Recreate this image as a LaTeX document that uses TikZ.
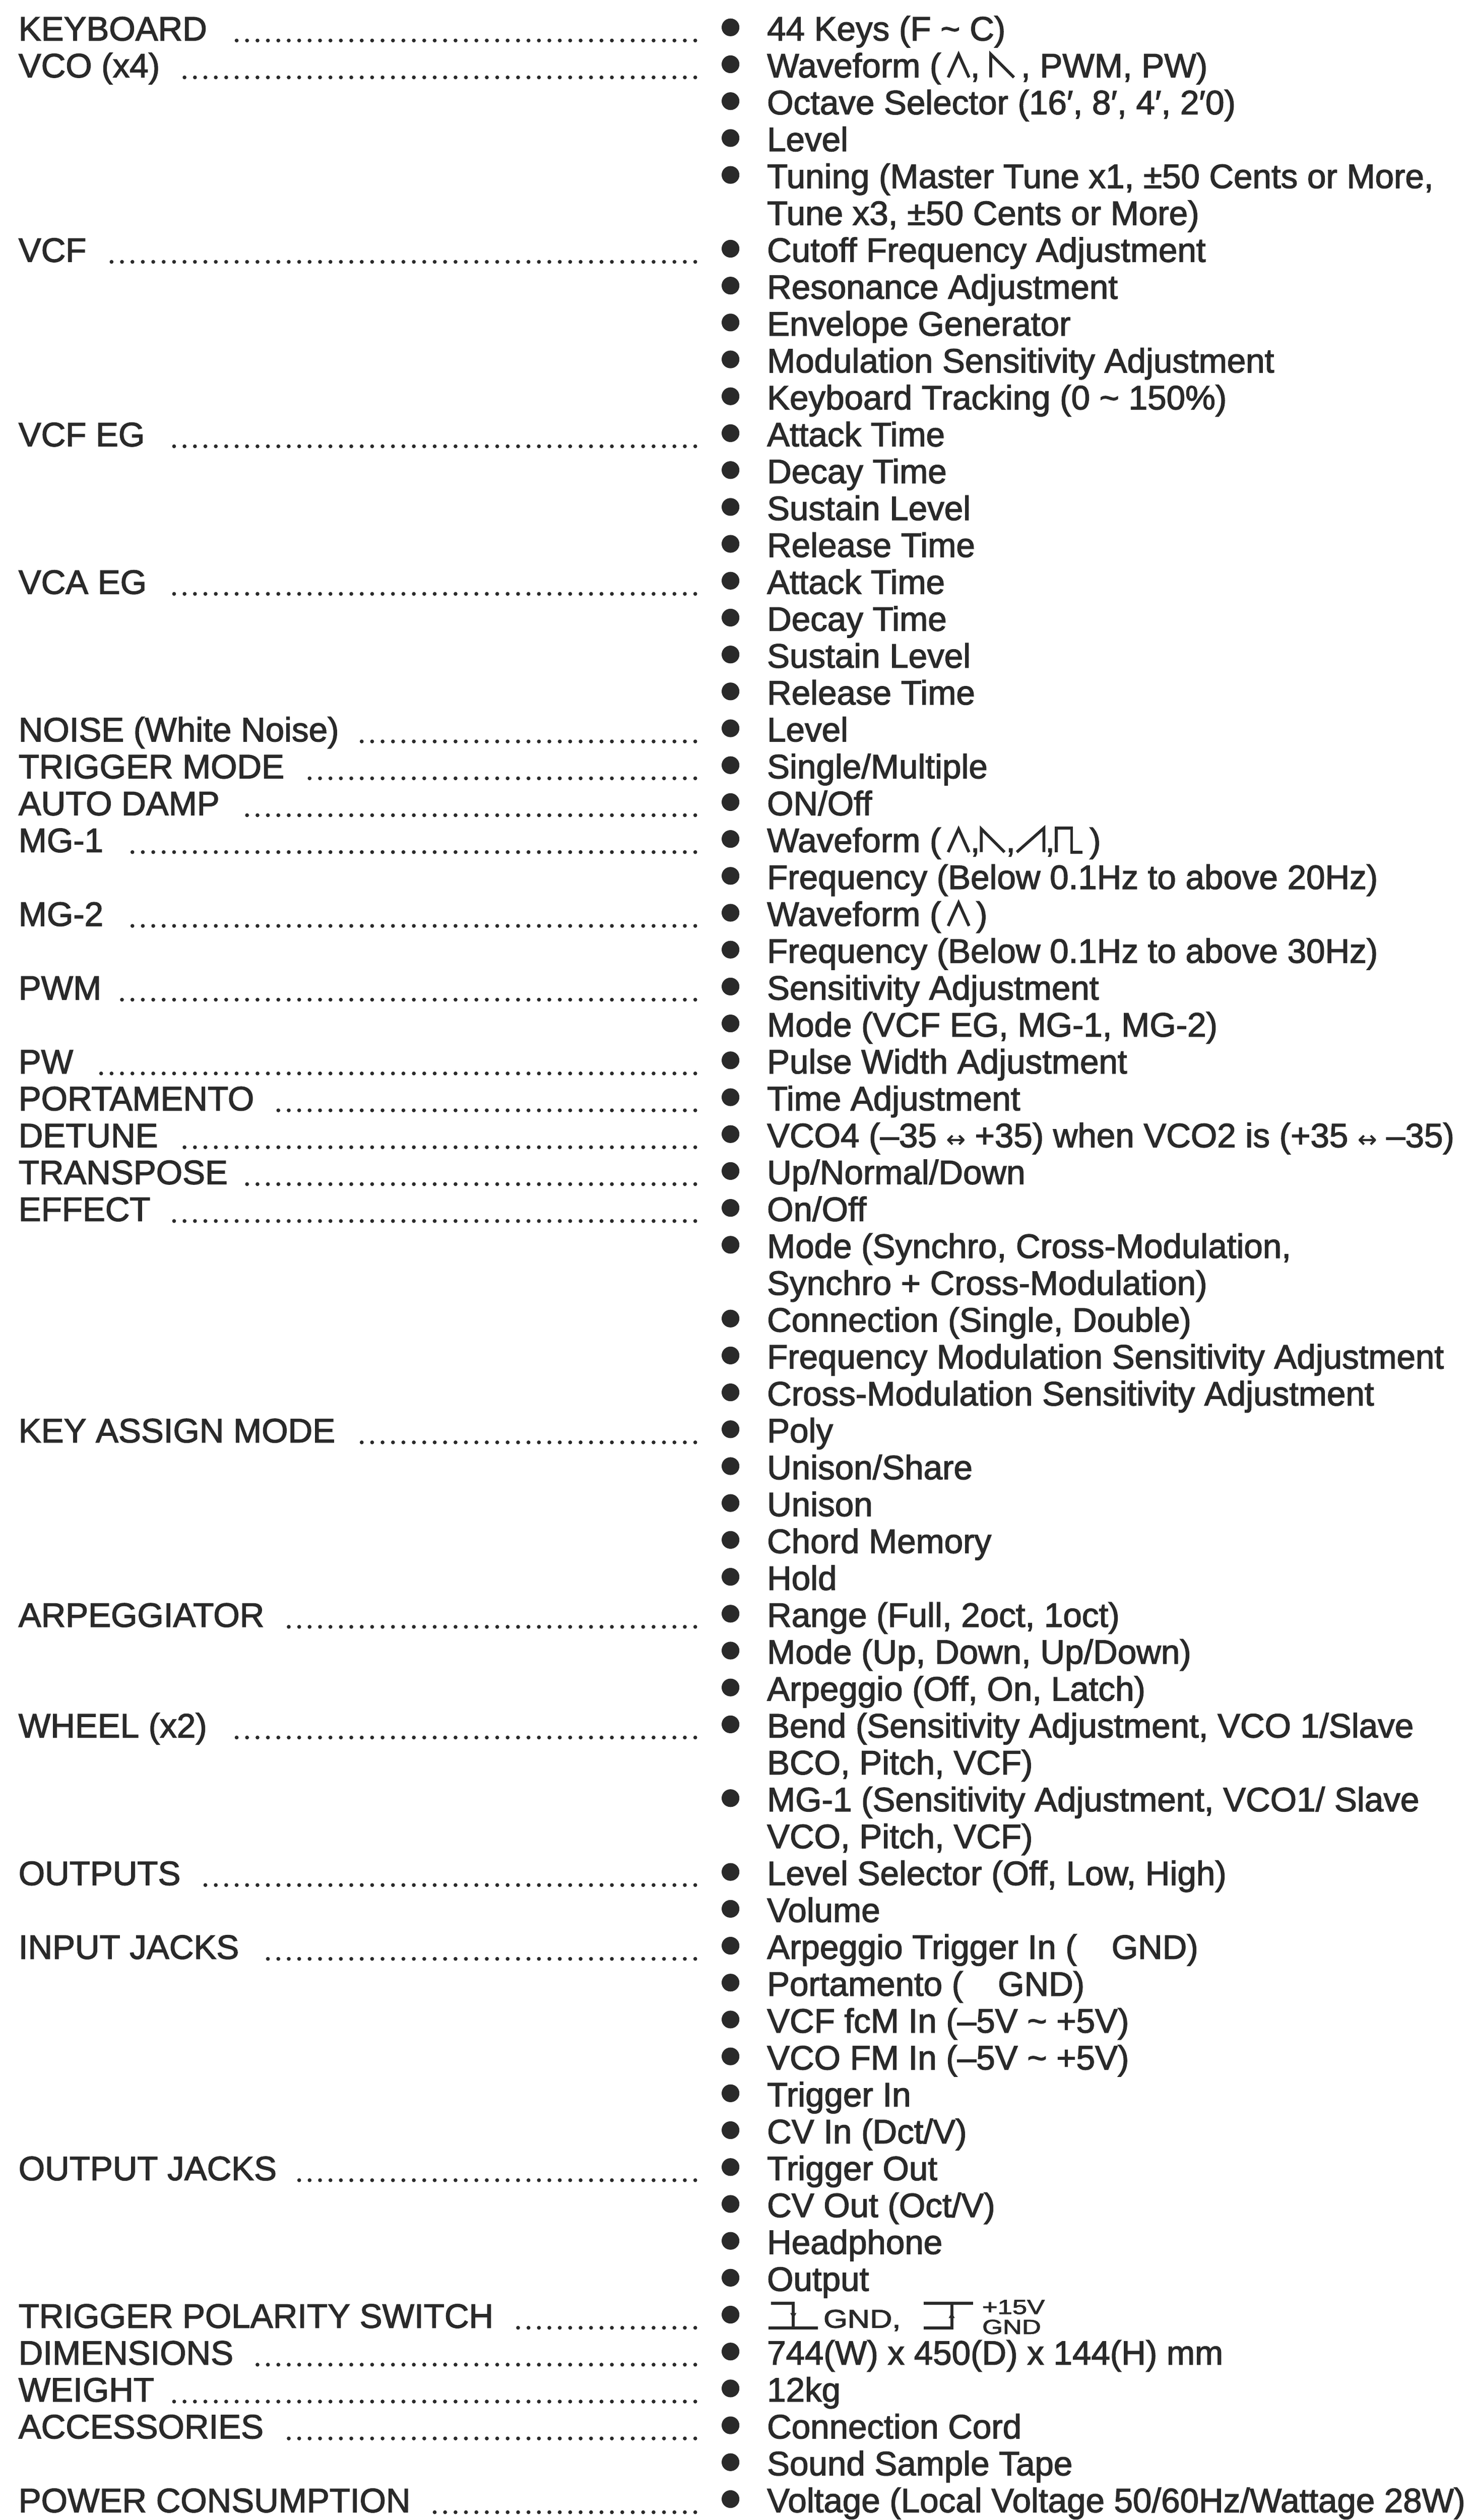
\documentclass[tikz,border=0pt]{standalone}
\usepackage{fontspec}
\setmainfont{Liberation Sans}[FakeBold=2]
\newfontfamily\symfont{DejaVu Sans}[FakeBold=1]
\usepackage{graphicx}
\usepackage{tikz}
\usetikzlibrary{positioning}

\definecolor{ink}{HTML}{2A2A2A}
\newcommand{\specfont}{\fontsize{25pt}{27pt}\selectfont}
\newcommand{\arr}{{\symfont\fontsize{17pt}{17pt}\selectfont ↔}}
% waveform glyphs
\newcommand{\wtri}{\tikz[baseline=0pt]\draw[ink, line width=0.075cm] (0,0) -- (0.27,0.6) -- (0.54,0);}
\newcommand{\wsaw}{\tikz[baseline=0pt]\draw[ink, line width=0.075cm] (0,0) -- (0,0.6) -- (0.6,0);}
\newcommand{\wramp}{\tikz[baseline=0pt]\draw[ink, line width=0.075cm] (0,0) -- (0.7,0.62) -- (0.7,0);}
\newcommand{\wsq}{\tikz[baseline=0pt]\draw[ink, line width=0.075cm] (0,0) -- (0,0.62) -- (0.4,0.62) -- (0.4,0) -- (0.68,0);}
% trigger polarity glyphs
\newcommand{\trigfall}{\tikz[baseline=0pt]{\draw[ink, line width=0.08cm] (0.06,0.63) -- (0.64,0.63) -- (0.64,0);
  \draw[ink, line width=0.08cm] (0,0) -- (1.28,0);
  \fill[ink] (0.56,0.38) -- (0.72,0.38) -- (0.64,0.24) -- cycle;}}
\newcommand{\trigrise}{\tikz[baseline=0pt]{\draw[ink, line width=0.08cm] (0,0) -- (0.73,0) -- (0.73,0.63);
  \draw[ink, line width=0.08cm] (0,0.63) -- (1.28,0.63);
  \fill[ink] (0.65,0.25) -- (0.81,0.25) -- (0.73,0.39) -- cycle;}}

\begin{document}
\begin{tikzpicture}[
    line/.style={inner sep=0pt, outer sep=0pt, text height=0.66cm, text depth=0.2955cm, font=\specfont, text=ink},
    bul/.style={circle, fill=ink, inner sep=0pt, minimum size=0.46cm, yshift=0.158cm},
    item/.style={line, label={[bul]left:{}}},
    cont/.style={line},
    under/.style={below=0pt of #1.south west, anchor=north west},
    head/.style={line, anchor=base west},
    leader/.style={draw=ink, line width=0.1cm, line cap=round, dash pattern=on 0pt off 0.27cm, shorten >=0.5cm},
    label distance=0.71cm]

\path[use as bounding box, fill=white] (0,0) rectangle (38.12,65.27);
\coordinate (lm) at (0.48,64.22);
\coordinate (de) at (18.01,64.22);
\coordinate (fr) at (19.87,64.22);

% right column, one line per row
\node[item, anchor=base west] (r1) at (fr) {44 Keys (F \textasciitilde{} C)};
\node[item, under=r1] (r2) {Waveform (\,\wtri, \wsaw\,, PWM, PW)};
\node[item, under=r2] (r3) {Octave Selector (16′, 8′, 4′, 2′0)};
\node[item, under=r3] (r4) {Level};
\node[item, under=r4] (r5) {Tuning (Master Tune x1, ±50 Cents or More,};
\node[cont, under=r5] (r6) {Tune x3, ±50 Cents or More)};
\node[item, under=r6] (r7) {Cutoff Frequency Adjustment};
\node[item, under=r7] (r8) {Resonance Adjustment};
\node[item, under=r8] (r9) {Envelope Generator};
\node[item, under=r9] (r10) {Modulation Sensitivity Adjustment};
\node[item, under=r10] (r11) {Keyboard Tracking (0 \textasciitilde{} 150\%)};
\node[item, under=r11] (r12) {Attack Time};
\node[item, under=r12] (r13) {Decay Time};
\node[item, under=r13] (r14) {Sustain Level};
\node[item, under=r14] (r15) {Release Time};
\node[item, under=r15] (r16) {Attack Time};
\node[item, under=r16] (r17) {Decay Time};
\node[item, under=r17] (r18) {Sustain Level};
\node[item, under=r18] (r19) {Release Time};
\node[item, under=r19] (r20) {Level};
\node[item, under=r20] (r21) {Single/Multiple};
\node[item, under=r21] (r22) {ON/Off};
\node[item, under=r22] (r23) {Waveform (\,\wtri,\wsaw,\wramp,\wsq\,)};
\node[item, under=r23] (r24) {Frequency (Below 0.1Hz to above 20Hz)};
\node[item, under=r24] (r25) {Waveform (\,\wtri\,)};
\node[item, under=r25] (r26) {Frequency (Below 0.1Hz to above 30Hz)};
\node[item, under=r26] (r27) {Sensitivity Adjustment};
\node[item, under=r27] (r28) {Mode (VCF EG, MG-1, MG-2)};
\node[item, under=r28] (r29) {Pulse Width Adjustment};
\node[item, under=r29] (r30) {Time Adjustment};
\node[item, under=r30] (r31) {VCO4 (–35 \arr{} +35) when VCO2 is (+35 \arr{} –35)};
\node[item, under=r31] (r32) {Up/Normal/Down};
\node[item, under=r32] (r33) {On/Off};
\node[item, under=r33] (r34) {Mode (Synchro, Cross-Modulation,};
\node[cont, under=r34] (r35) {Synchro + Cross-Modulation)};
\node[item, under=r35] (r36) {Connection (Single, Double)};
\node[item, under=r36] (r37) {Frequency Modulation Sensitivity Adjustment};
\node[item, under=r37] (r38) {Cross-Modulation Sensitivity Adjustment};
\node[item, under=r38] (r39) {Poly};
\node[item, under=r39] (r40) {Unison/Share};
\node[item, under=r40] (r41) {Unison};
\node[item, under=r41] (r42) {Chord Memory};
\node[item, under=r42] (r43) {Hold};
\node[item, under=r43] (r44) {Range (Full, 2oct, 1oct)};
\node[item, under=r44] (r45) {Mode (Up, Down, Up/Down)};
\node[item, under=r45] (r46) {Arpeggio (Off, On, Latch)};
\node[item, under=r46] (r47) {Bend (Sensitivity Adjustment, VCO 1/Slave};
\node[cont, under=r47] (r48) {BCO, Pitch, VCF)};
\node[item, under=r48] (r49) {MG-1 (Sensitivity Adjustment, VCO1/ Slave};
\node[cont, under=r49] (r50) {VCO, Pitch, VCF)};
\node[item, under=r50] (r51) {Level Selector (Off, Low, High)};
\node[item, under=r51] (r52) {Volume};
\node[item, under=r52] (r53) {Arpeggio Trigger In (\hspace{0.9cm}GND)};
\node[item, under=r53] (r54) {Portamento (\hspace{0.9cm}GND)};
\node[item, under=r54] (r55) {VCF fcM In (–5V \textasciitilde{} +5V)};
\node[item, under=r55] (r56) {VCO FM In (–5V \textasciitilde{} +5V)};
\node[item, under=r56] (r57) {Trigger In};
\node[item, under=r57] (r58) {CV In (Dct/V)};
\node[item, under=r58] (r59) {Trigger Out};
\node[item, under=r59] (r60) {CV Out (Oct/V)};
\node[item, under=r60] (r61) {Headphone};
\node[item, under=r61] (r62) {Output};
\node[item, under=r62] (r63) {\trigfall\hspace{0.1cm}\scalebox{1.2}[1]{\fontsize{19pt}{19pt}\selectfont GND,}\hspace{0.55cm}\trigrise\hspace{0.2cm}\raisebox{-0.16cm}{\scalebox{1.3}[1]{\fontsize{15pt}{14.7pt}\selectfont\vbox{\hbox{+15V}\hbox{GND}}}}};
\node[item, under=r63] (r64) {744(W) x 450(D) x 144(H) mm};
\node[item, under=r64] (r65) {12kg};
\node[item, under=r65] (r66) {Connection Cord};
\node[item, under=r66] (r67) {Sound Sample Tape};
\node[item, under=r67] (r68) {Voltage (Local Voltage 50/60Hz/Wattage 28W)};

% left column headings
\node[head] (hkbd) at (r1.base -| lm) {KEYBOARD};
\node[head] (hvco) at (r2.base -| lm) {VCO (x4)};
\node[head] (hvcf) at (r7.base -| lm) {VCF};
\node[head] (hvcfeg) at (r12.base -| lm) {VCF EG};
\node[head] (hvcaeg) at (r16.base -| lm) {VCA EG};
\node[head] (hnoise) at (r20.base -| lm) {NOISE (White Noise)};
\node[head] (htrig) at (r21.base -| lm) {TRIGGER MODE};
\node[head] (hdamp) at (r22.base -| lm) {AUTO DAMP};
\node[head] (hmga) at (r23.base -| lm) {MG-1};
\node[head] (hmgb) at (r25.base -| lm) {MG-2};
\node[head] (hpwm) at (r27.base -| lm) {PWM};
\node[head] (hpw) at (r29.base -| lm) {PW};
\node[head] (hporta) at (r30.base -| lm) {PORTAMENTO};
\node[head] (hdetune) at (r31.base -| lm) {DETUNE};
\node[head] (htrans) at (r32.base -| lm) {TRANSPOSE};
\node[head] (heffect) at (r33.base -| lm) {EFFECT};
\node[head] (hkam) at (r39.base -| lm) {KEY ASSIGN MODE};
\node[head] (harp) at (r44.base -| lm) {ARPEGGIATOR};
\node[head] (hwheel) at (r47.base -| lm) {WHEEL (x2)};
\node[head] (houts) at (r51.base -| lm) {OUTPUTS};
\node[head] (hin) at (r53.base -| lm) {INPUT JACKS};
\node[head] (hout) at (r59.base -| lm) {OUTPUT JACKS};
\node[head] (hpol) at (r63.base -| lm) {TRIGGER POLARITY SWITCH};
\node[head] (hdim) at (r64.base -| lm) {DIMENSIONS};
\node[head] (hwt) at (r65.base -| lm) {WEIGHT};
\node[head] (hacc) at (r66.base -| lm) {ACCESSORIES};
\node[head] (hpow) at (r68.base -| lm) {POWER CONSUMPTION};

% dot leaders, aligned on the right
\draw[leader] (r1.base -| de) -- (hkbd.base east);
\draw[leader] (r2.base -| de) -- (hvco.base east);
\draw[leader] (r7.base -| de) -- (hvcf.base east);
\draw[leader] (r12.base -| de) -- (hvcfeg.base east);
\draw[leader] (r16.base -| de) -- (hvcaeg.base east);
\draw[leader] (r20.base -| de) -- (hnoise.base east);
\draw[leader] (r21.base -| de) -- (htrig.base east);
\draw[leader] (r22.base -| de) -- (hdamp.base east);
\draw[leader] (r23.base -| de) -- (hmga.base east);
\draw[leader] (r25.base -| de) -- (hmgb.base east);
\draw[leader] (r27.base -| de) -- (hpwm.base east);
\draw[leader] (r29.base -| de) -- (hpw.base east);
\draw[leader] (r30.base -| de) -- (hporta.base east);
\draw[leader] (r31.base -| de) -- (hdetune.base east);
\draw[leader] (r32.base -| de) -- (htrans.base east);
\draw[leader] (r33.base -| de) -- (heffect.base east);
\draw[leader] (r39.base -| de) -- (hkam.base east);
\draw[leader] (r44.base -| de) -- (harp.base east);
\draw[leader] (r47.base -| de) -- (hwheel.base east);
\draw[leader] (r51.base -| de) -- (houts.base east);
\draw[leader] (r53.base -| de) -- (hin.base east);
\draw[leader] (r59.base -| de) -- (hout.base east);
\draw[leader] (r63.base -| de) -- (hpol.base east);
\draw[leader] (r64.base -| de) -- (hdim.base east);
\draw[leader] (r65.base -| de) -- (hwt.base east);
\draw[leader] (r66.base -| de) -- (hacc.base east);
\draw[leader] (r68.base -| de) -- (hpow.base east);
\end{tikzpicture}
\end{document}
